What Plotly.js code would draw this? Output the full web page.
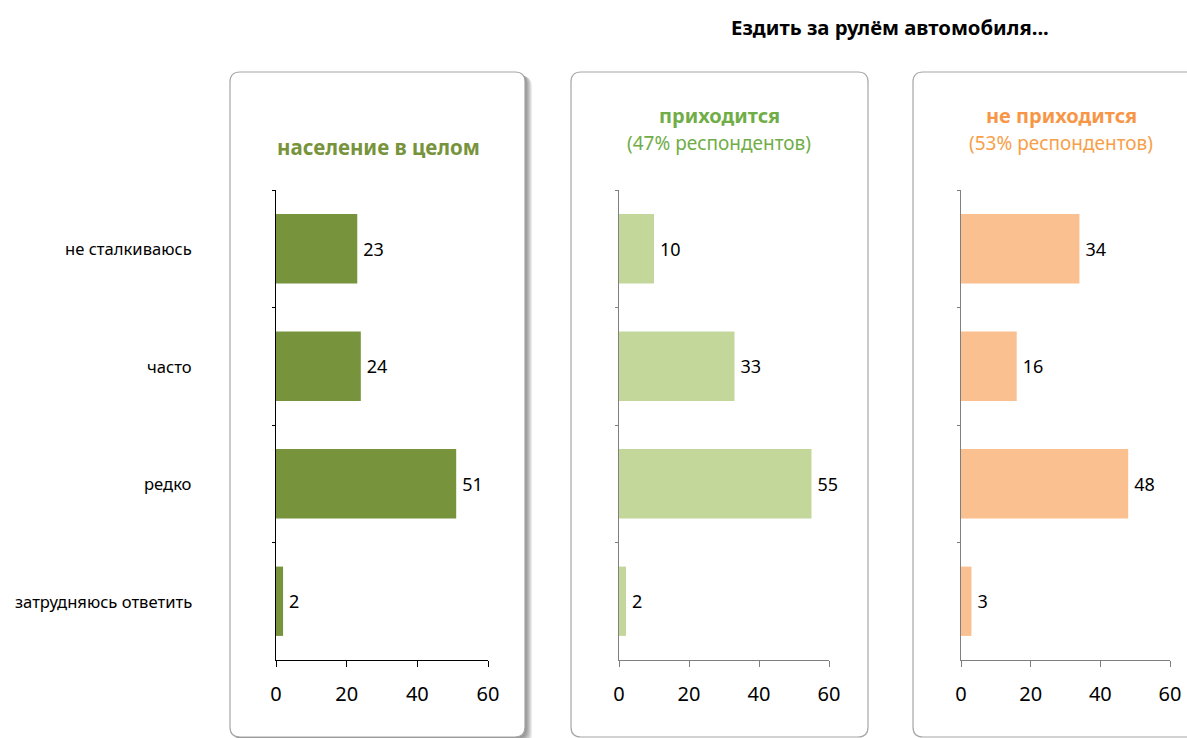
<!DOCTYPE html>
<html><head><meta charset="utf-8">
<script src="https://cdn.plot.ly/plotly-3.0.1.min.js"></script>
<style>html,body{margin:0;padding:0;background:#fff}</style>
</head><body><div id="chart" style="width:1187px;height:738px"></div>
<script>
const categories = ["не сталкиваюсь", "часто", "редко", "затрудняюсь ответить"];
const totalValues = [23, 24, 51, 2];
const driveValues = [10, 33, 55, 2];
const noDriveValues = [34, 16, 48, 3];
const xTicks = [0, 20, 40, 60];
const mainTitle = "Ездить за рулём автомобиля...";
const panelTitles = ["население в целом", "приходится", "не приходится"];
const panelSubtitles = ["", "(47% респондентов)", "(53% респондентов)"];

const W = 1187, H = 738;
const FONT = "Noto Sans, sans-serif";
const px = x => x / W, py = y => 1 - y / H;

function roundRect(x0, y0, x1, y1, r) {
  const p = [
    `M ${px(x0 + r)} ${py(y0)}`,
    `L ${px(x1 - r)} ${py(y0)}`,
    `Q ${px(x1)} ${py(y0)} ${px(x1)} ${py(y0 + r)}`,
    `L ${px(x1)} ${py(y1 - r)}`,
    `Q ${px(x1)} ${py(y1)} ${px(x1 - r)} ${py(y1)}`,
    `L ${px(x0 + r)} ${py(y1)}`,
    `Q ${px(x0)} ${py(y1)} ${px(x0)} ${py(y1 - r)}`,
    `L ${px(x0)} ${py(y0 + r)}`,
    `Q ${px(x0)} ${py(y0)} ${px(x0 + r)} ${py(y0)}`,
    'Z'];
  return p.join(' ');
}

const shapes = [];
// shadow for first panel
for (let i = 7; i >= 1; i--) {
  shapes.push({type: 'path', xref: 'paper', yref: 'paper', layer: 'below',
    path: roundRect(230 + i, 72 + i * 0.6, 525 + i, 737 + i, 10),
    fillcolor: 'rgba(0,0,0,0.075)', line: {width: 0}});
}
const boxes = [[230, 72, 525, 737], [571, 72, 868, 737], [913, 72, 1200, 737]];
boxes.forEach(b => shapes.push({type: 'path', xref: 'paper', yref: 'paper', layer: 'below',
  path: roundRect(b[0], b[1], b[2], b[3], 10), fillcolor: '#ffffff',
  line: {color: '#a6a6a6', width: 1.2}}));

const colors = ['#77933C', '#C4D79B', '#FAC090'];
const series = [totalValues, driveValues, noDriveValues];
const traces = series.map((vals, i) => ({
  type: 'bar', orientation: 'h', x: vals, y: categories,
  xaxis: i === 0 ? 'x' : 'x' + (i + 1), yaxis: i === 0 ? 'y' : 'y' + (i + 1),
  marker: {color: colors[i]}, text: vals.map(v => '\u2009' + v), textposition: 'outside',
  cliponaxis: false, textfont: {family: FONT, size: 18, color: '#000'},
  hoverinfo: 'skip', showlegend: false
}));

const xDomains = [[px(276), px(488)], [px(619), px(829)], [px(961), px(1170)]];
const yDomain = [py(660), py(190)];
const axisColors = ['#000000', '#7f7f7f', '#7f7f7f'];

const layout = {
  width: W, height: H, margin: {l: 0, r: 0, t: 0, b: 0},
  paper_bgcolor: '#fff', plot_bgcolor: 'rgba(0,0,0,0)',
  bargap: 0.41, font: {family: FONT, color: '#000'},
  shapes: shapes, annotations: []
};
for (let i = 0; i < 3; i++) {
  const sx = i === 0 ? '' : String(i + 1);
  layout['xaxis' + sx] = {domain: xDomains[i], range: [0, 60], tickvals: xTicks,
    ticks: 'outside', ticklen: 6, tickcolor: axisColors[i], showline: true,
    linecolor: axisColors[i], linewidth: 1, showgrid: false, zeroline: false,
    anchor: 'y' + sx, tickfont: {family: FONT, size: 20, color: '#000'},
    ticklabelstandoff: 10, fixedrange: true};
  layout['yaxis' + sx] = {domain: yDomain, categoryorder: 'array',
    categoryarray: categories, autorange: 'reversed', showticklabels: false,
    ticks: 'outside', tickson: 'boundaries', ticklen: 3, tickcolor: axisColors[i],
    showline: true, linecolor: axisColors[i], linewidth: 1, showgrid: false,
    anchor: 'x' + sx, fixedrange: true};
}
// category labels
categories.forEach(c => layout.annotations.push({xref: 'paper', yref: 'y', x: px(194), y: c,
  xanchor: 'right', yanchor: 'middle', text: c, showarrow: false,
  font: {family: FONT, size: 16.6, color: '#000'}}));
// main title
layout.annotations.push({xref: 'paper', yref: 'paper', x: px(890), y: py(27), xanchor: 'center',
  yanchor: 'middle', text: '<b>' + mainTitle + '</b>', showarrow: false,
  font: {family: FONT, size: 20.3, color: '#000'}});
// panel titles
const titleColors = ['#77933C', '#70AD47', '#F79646'];
const subColors = ['#77933C', '#70AD47', '#F7A04A'];
const centers = [378, 719, 1061];
layout.annotations.push({xref: 'paper', yref: 'paper', x: px(centers[0]), y: py(147),
  xanchor: 'center', yanchor: 'middle', text: '<b>' + panelTitles[0] + '</b>', showarrow: false,
  font: {family: FONT, size: 20.5, color: titleColors[0]}});
for (let i = 1; i < 3; i++) {
  layout.annotations.push({xref: 'paper', yref: 'paper', x: px(centers[i]), y: py(115),
    xanchor: 'center', yanchor: 'middle', text: '<b>' + panelTitles[i] + '</b>', showarrow: false,
    font: {family: FONT, size: 20, color: titleColors[i]}});
  layout.annotations.push({xref: 'paper', yref: 'paper', x: px(centers[i]), y: py(143),
    xanchor: 'center', yanchor: 'middle', text: panelSubtitles[i], showarrow: false,
    font: {family: FONT, size: 19, color: subColors[i]}});
}
Plotly.newPlot('chart', traces, layout, {displayModeBar: false, staticPlot: true});
</script></body></html>
